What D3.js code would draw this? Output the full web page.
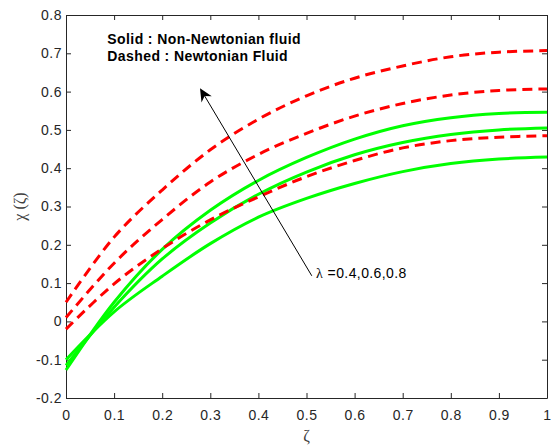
<!DOCTYPE html>
<html lang="en">
<head>
<meta charset="UTF-8" />
<script src="https://d3js.org/d3.v7.min.js"></script>
<style>
  body { margin: 0; background: #fff; }
  .tick text { font-family: "Liberation Sans", Arial, sans-serif; font-size: 14px; letter-spacing: 0.5px; fill: #262626; }
  .tick line, .domain { stroke: #262626; }
</style>
<title>chi vs zeta</title>
</head>
<body>
<div id="chart"></div>
<script>
// values at each zeta step
const zeta = [0, 0.1, 0.2, 0.3, 0.4, 0.5, 0.6, 0.7, 0.8, 0.9, 1];
// dashed (Newtonian), top to bottom
const newtonianA = [0.05, 0.22, 0.343, 0.448, 0.528, 0.589, 0.635, 0.667, 0.691, 0.703, 0.707];
const newtonianB = [0.01, 0.152, 0.266, 0.364, 0.436, 0.491, 0.536, 0.569, 0.591, 0.603, 0.607];
const newtonianC = [-0.02, 0.098, 0.19, 0.265, 0.325, 0.378, 0.42, 0.453, 0.472, 0.481, 0.485];
// solid (non-Newtonian), ending top to bottom
const nonNewtonianA = [-0.127, 0.05, 0.188, 0.29, 0.368, 0.428, 0.476, 0.511, 0.532, 0.543, 0.546];
const nonNewtonianB = [-0.115, 0.037, 0.163, 0.257, 0.332, 0.39, 0.435, 0.467, 0.488, 0.5, 0.505];
const nonNewtonianC = [-0.1, 0.025, 0.118, 0.203, 0.272, 0.321, 0.36, 0.391, 0.412, 0.424, 0.429];

const xTicks = [0, 0.1, 0.2, 0.3, 0.4, 0.5, 0.6, 0.7, 0.8, 0.9, 1];
const yTicks = [-0.2, -0.1, 0, 0.1, 0.2, 0.3, 0.4, 0.5, 0.6, 0.7, 0.8];

const legendLines = ["Solid : Non-Newtonian fluid", "Dashed : Newtonian Fluid"];
const lambdaLabel = "=0.4,0.6,0.8";

var margin = { top: 15, right: 7, bottom: 49, left: 66 },
  width = 554 - margin.left - margin.right,
  height = 447 - margin.top - margin.bottom;

var svg = d3.select("#chart")
  .append("svg")
  .attr("width", 554)
  .attr("height", 447);

var g = svg.append("g")
  .attr("transform", "translate(" + margin.left + "," + margin.top + ")");

var x = d3.scaleLinear().domain([0, 1]).range([0, width]);
var y = d3.scaleLinear().domain([-0.2, 0.8]).range([height, 0]);

var fmt = (d) => (d === 0 ? "0" : String(+d.toFixed(1)));

// axes, ticks pointing inward on all four sides
g.append("g")
  .attr("transform", "translate(0," + height + ")")
  .call(d3.axisBottom(x).tickValues(xTicks).tickFormat(fmt).tickSizeInner(-5).tickSizeOuter(0).tickPadding(12));
g.append("g")
  .call(d3.axisTop(x).tickValues(xTicks).tickFormat("").tickSizeInner(-5).tickSizeOuter(0));
g.append("g")
  .call(d3.axisLeft(y).tickValues(yTicks).tickFormat(fmt).tickSizeInner(-5).tickSizeOuter(0).tickPadding(4));
g.append("g")
  .attr("transform", "translate(" + width + ",0)")
  .call(d3.axisRight(y).tickValues(yTicks).tickFormat("").tickSizeInner(-5).tickSizeOuter(0));

var line = d3.line()
  .x((d, i) => x(zeta[i]))
  .y((d) => y(d))
  .curve(d3.curveCatmullRom.alpha(0.5));

// solid green first, dashed red on top
[nonNewtonianA, nonNewtonianB, nonNewtonianC].forEach(function (s) {
  g.append("path")
    .attr("d", line(s))
    .attr("fill", "none")
    .attr("stroke", "#00ff00")
    .attr("stroke-width", 3);
});
[newtonianA, newtonianB, newtonianC].forEach(function (s) {
  g.append("path")
    .attr("d", line(s))
    .attr("fill", "none")
    .attr("stroke", "#ff0000")
    .attr("stroke-width", 3)
    .attr("stroke-dasharray", "10,6");
});

// legend text
g.selectAll(".legend")
  .data(legendLines)
  .enter()
  .append("text")
  .attr("x", x(0.086))
  .attr("y", (d, i) => y(0.724) + i * 16.7)
  .style("font-family", "'Liberation Sans', Arial, sans-serif")
  .style("font-size", "14px")
  .style("letter-spacing", "0.4px")
  .style("font-weight", "bold")
  .style("fill", "#000")
  .text((d) => d);

// arrow (data coordinates)
var tail = [x(0.511), y(0.119)], tip = [x(0.2786), y(0.609)];
var ang = Math.atan2(tip[1] - tail[1], tip[0] - tail[0]);
var hl = 13, hw = 6;
function pt(len, off) {
  return [
    tip[0] - len * Math.cos(ang) - off * Math.sin(ang),
    tip[1] - len * Math.sin(ang) + off * Math.cos(ang)
  ];
}
g.append("line")
  .attr("x1", tail[0]).attr("y1", tail[1])
  .attr("x2", pt(8, 0)[0]).attr("y2", pt(8, 0)[1])
  .attr("stroke", "#000")
  .attr("stroke-width", 1);
g.append("path")
  .attr("d", "M" + [tip, pt(hl, hw), pt(9, 0), pt(hl, -hw)].join("L") + "Z")
  .attr("fill", "#000");

var lab = g.append("text")
  .attr("x", x(0.52))
  .attr("y", y(0.114))
  .style("font-family", "'Liberation Sans', Arial, sans-serif")
  .style("font-size", "14px")
  .style("letter-spacing", "0.4px")
  .style("fill", "#000");
lab.append("tspan").style("font-family", "'Liberation Serif', serif").text("λ");
lab.append("tspan").text(" " + lambdaLabel);

// axis labels
svg.append("text")
  .attr("x", margin.left + width / 2)
  .attr("y", 441)
  .attr("text-anchor", "middle")
  .style("font-family", "'Liberation Serif', serif")
  .style("font-size", "16px")
  .style("fill", "#404040")
  .text("ζ");
svg.append("text")
  .attr("transform", "translate(25," + (margin.top + height / 2) + ")rotate(-90)")
  .attr("text-anchor", "middle")
  .style("font-family", "'Liberation Serif', serif")
  .style("font-size", "16px")
  .style("fill", "#404040")
  .text("χ (ζ)");
</script>
</body>
</html>
